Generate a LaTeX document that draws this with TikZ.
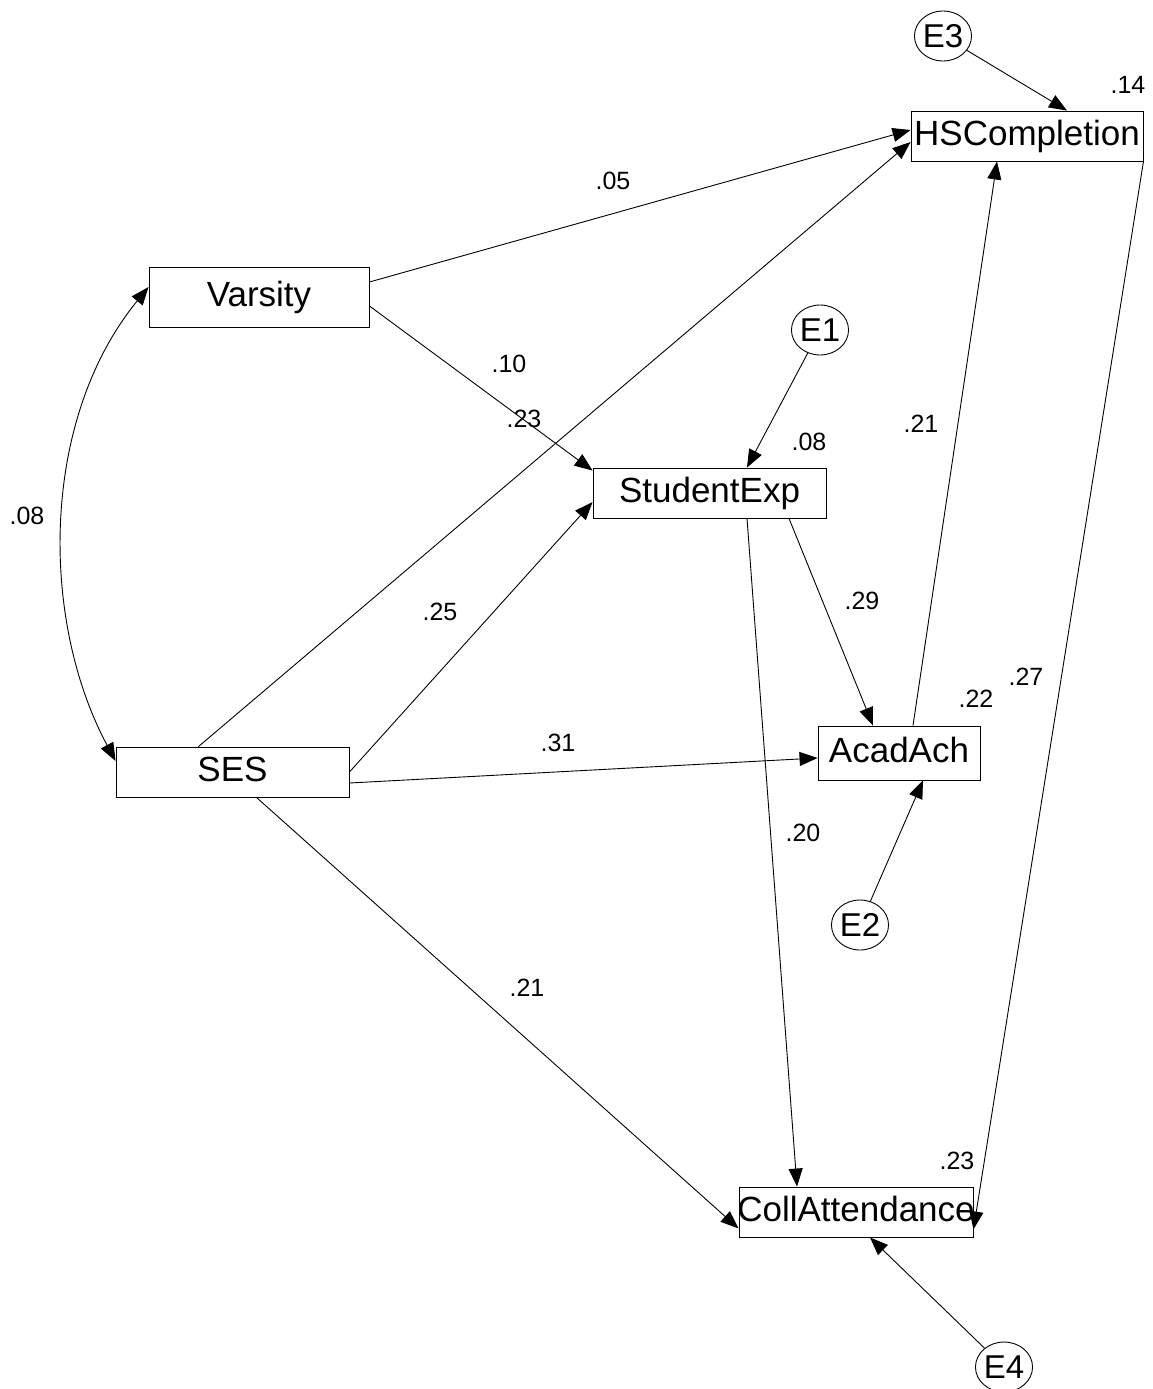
\documentclass[tikz,border=0pt]{standalone}
\usepackage{fontspec}
\setmainfont{Liberation Sans}
\usetikzlibrary{arrows.meta,calc,shapes.geometric}
\begin{document}
\begin{tikzpicture}[x=1pt,y=-1pt,
  box/.style={draw,line width=0.9pt,rectangle,inner sep=0pt,minimum height=50pt,
    font=\fontsize{35}{42}\selectfont,text height=25pt,text depth=6pt},
  errv/.style={draw,line width=0.9pt,ellipse,inner sep=0pt,minimum width=53pt,minimum height=50pt,
    font=\fontsize{33}{40}\selectfont},
  lbl/.style={font=\fontsize{25}{30}\selectfont,inner sep=0pt},
  arr/.style={line width=0.9pt,-{Triangle[length=18pt,width=14pt]}},
  darr/.style={line width=0.9pt,{Triangle[length=18pt,width=14pt]}-{Triangle[length=18pt,width=14pt]}}
]
\useasboundingbox (0,0) rectangle (1153,1389);
\fill[white] (0,0) rectangle (1153,1389);

% observed variables
\node[box,minimum width=232pt] (hsc) at (1027,136) {HSCompletion};
\node[box,minimum width=220pt,minimum height=60pt] (var) at (259,297) {Varsity};
\node[box,minimum width=233pt] (stu) at (709.5,493) {StudentExp};
\node[box,minimum width=233pt] (ses) at (232.5,772) {SES};
\node[box,minimum width=162pt,minimum height=54pt] (acad) at (899,753) {AcadAch};
\node[box,minimum width=234pt] (coll) at (856,1212) {\makebox[0pt]{CollAttendance}};

% error terms
\node[errv] (e3) at (943,36) {E3};
\node[errv] (e1) at (820,330) {E1};
\node[errv] (e2) at (860,925) {E2};
\node[errv] (e4) at (1004,1367) {E4};

% paths
\draw[arr] (e3) -- ($(hsc.north)+(40,0)$);
\draw[arr] ($(var.east)+(0,-15)$) -- ($(hsc.west)+(0,-6)$);
\draw[arr] ($(var.east)+(0,9)$) -- ($(stu.north west)+(0,3)$);
\draw[arr] ($(ses.north)+(-34,0)$) -- ($(hsc.west)+(0,6)$);
\draw[arr] (ses.east) -- ($(stu.west)+(0,9)$);
\draw[arr] ($(ses.east)+(0,11)$) -- ($(acad.west)+(0,5)$);
\draw[arr] ($(ses.south)+(24,0)$) -- ($(coll.south west)+(0,-9)$);
\draw[arr] ($(stu.south)+(79.5,0)$) -- ($(acad.north)+(-26,0)$);
\draw[arr] ($(stu.south)+(37.5,0)$) -- ($(coll.north)+(-59,0)$);
\draw[arr] ($(acad.north)+(14,0)$) -- ($(hsc.south)+(-30,0)$);
\draw[arr] (hsc.south east) -- ($(coll.south east)+(0,-8)$);
\draw[arr] (e1) -- ($(stu.north)+(37.5,0)$);
\draw[arr] (e2) -- ($(acad.south)+(24,0)$);
\draw[arr] (e4) -- ($(coll.south)+(14,0)$);
\draw[darr] ($(ses.west)+(0,-11)$) .. controls (40,620) and (40,420) .. ($(var.west)+(0,-10)$);

% labels
\node[lbl] (l14) at (1128,85) {.14};
\node[lbl] (l05) at (613,181) {.05};
\node[lbl] (l10) at (509,364) {.10};
\node[lbl] (l23a) at (524,419) {.23};
\node[lbl] (l25) at (440,612) {.25};
\node[lbl] (l31) at (558,743) {.31};
\node[lbl] (l08a) at (27,516) {.08};
\node[lbl] (l08b) at (809,442) {.08};
\node[lbl] (l21a) at (921,424) {.21};
\node[lbl] (l29) at (862,601) {.29};
\node[lbl] (l22) at (976,699) {.22};
\node[lbl] (l27) at (1026,677) {.27};
\node[lbl] (l20) at (803,833) {.20};
\node[lbl] (l21b) at (527,988) {.21};
\node[lbl] (l23b) at (957,1161) {.23};
\end{tikzpicture}
\end{document}
